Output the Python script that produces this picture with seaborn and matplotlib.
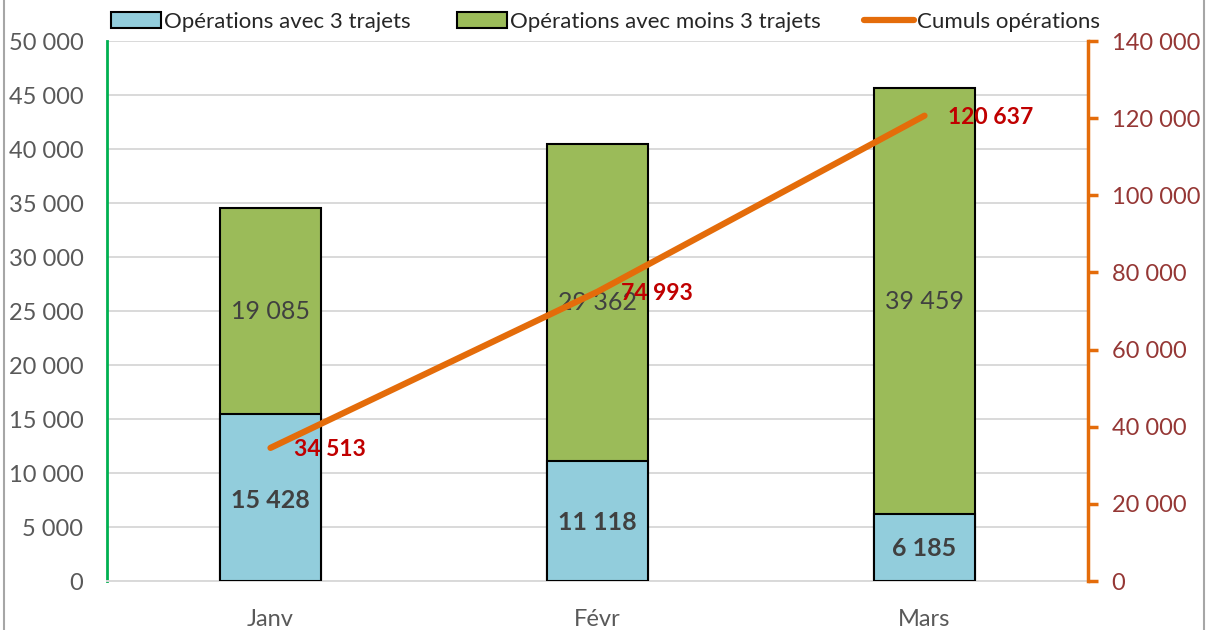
import numpy as np
import matplotlib
matplotlib.use("Agg")
import matplotlib.pyplot as plt
import seaborn as sns
import pandas as pd
from matplotlib.patches import Patch
from matplotlib.lines import Line2D

# ---- data ----
months = ["Janv", "Févr", "Mars"]
ops_3_trajets = [15428, 11118, 6185]
ops_moins_3 = [19085, 29362, 39459]
cumul_ops = [34513, 74993, 120637]
left_ticks = list(range(0, 50001, 5000))
right_ticks = list(range(0, 140001, 20000))
legend_labels = ["Opérations avec 3 trajets", "Opérations avec moins 3 trajets", "Cumuls opérations"]

def fmt(v):
    return f"{int(v):,}".replace(",", " ")

sns.set_theme(style="white")
plt.rcParams["font.family"] = ["Lato", "DejaVu Sans"]

BLUE = "#92CDDC"
GREEN = "#9BBB59"
ORANGE = "#E46C0A"
RED = "#C00000"
GRAYTXT = "#595959"
DARKTXT = "#404040"
RIGHTTXT = "#953735"

totals = [a + b for a, b in zip(ops_3_trajets, ops_moins_3)]
df = pd.DataFrame({"mois": months, "bleu": ops_3_trajets, "vert": ops_moins_3,
                   "total": totals, "cumul": cumul_ops})

fig = plt.figure(figsize=(12.08, 6.30), dpi=100)
ax = fig.add_axes([107/1208, 49/630, (1088-107)/1208, 540/630])

sns.barplot(data=df, x="mois", y="total", color=GREEN, saturation=1, width=0.31,
            edgecolor="black", linewidth=1.5, ax=ax, zorder=2)
sns.barplot(data=df, x="mois", y="bleu", color=BLUE, saturation=1, width=0.31,
            edgecolor="black", linewidth=1.5, ax=ax, zorder=3)

ax.set_xlim(-0.5, 2.5)
ax.set_ylim(0, 50000)
ax.set_yticks(left_ticks)
ax.set_yticklabels([fmt(t) for t in left_ticks], fontsize=17, color=GRAYTXT)
ax.set_xticks(range(len(months)))
ax.set_xticklabels(months, fontsize=17, color=GRAYTXT)
ax.set_xlabel("")
ax.set_ylabel("")
ax.tick_params(axis="both", length=0)
ax.tick_params(axis="x", pad=20)
ax.tick_params(axis="y", pad=17)
ax.grid(axis="y", color="#D9D9D9", linewidth=1.4, zorder=0)
ax.set_axisbelow(True)
for s in ["top", "right"]:
    ax.spines[s].set_visible(False)
ax.spines["left"].set_color("#00B050")
ax.spines["left"].set_linewidth(2)
ax.spines["bottom"].set_color("#D9D9D9")
ax.spines["bottom"].set_linewidth(1.4)

# labels inside bars
for i, (b, g) in enumerate(zip(ops_3_trajets, ops_moins_3)):
    ax.text(i, b * 0.485, fmt(b), ha="center", va="center", fontsize=18,
            fontweight="bold", color=DARKTXT, zorder=5)
    ax.text(i, b + g / 2, fmt(g), ha="center", va="center", fontsize=18,
            color=DARKTXT, zorder=5)

# cumulative line on secondary axis
ax2 = ax.twinx()
sns.lineplot(x=np.arange(len(months)), y=cumul_ops, color=ORANGE, linewidth=4.5,
             ax=ax2, solid_capstyle="round", zorder=4)
ax2.set_ylim(0, 140000)
ax2.set_xlim(-0.5, 2.5)
ax2.set_yticks(right_ticks)
ax2.set_yticklabels([fmt(t) for t in right_ticks], fontsize=17, color=RIGHTTXT)
ax2.tick_params(axis="y", length=7, width=2.5, color=ORANGE, pad=10, direction="out")
ax2.grid(False)
for s in ["top", "left", "bottom"]:
    ax2.spines[s].set_visible(False)
ax2.spines["right"].set_color(ORANGE)
ax2.spines["right"].set_linewidth(2.5)

for i, v in enumerate(cumul_ops):
    ax2.annotate(fmt(v), (i, v), xytext=(17, -1), textcoords="offset points",
                 ha="left", va="center", fontsize=16.5, fontweight="bold", color=RED, zorder=6)

# legend (three entries placed like the reference)
handles = [Patch(facecolor=BLUE, edgecolor="black", linewidth=1.5),
           Patch(facecolor=GREEN, edgecolor="black", linewidth=1.5),
           Line2D([0], [0], color=ORANGE, linewidth=4.5, solid_capstyle="round")]
legend_x = [111, 457, 864]
for h, lab, lx in zip(handles, legend_labels, legend_x):
    fig.legend([h], [lab], loc="center left", bbox_to_anchor=(lx/1208, 1 - 22/630),
               frameon=False, fontsize=16, handlelength=2.25, handleheight=0.7,
               handletextpad=0.15, borderpad=0, borderaxespad=0)

# outer frame lines
fig.add_artist(Line2D([4/1208, 4/1208], [0, 1], transform=fig.transFigure,
                      color="#A6A6A6", linewidth=1.5))
fig.add_artist(Line2D([1204/1208, 1204/1208], [0, 1], transform=fig.transFigure,
                      color="#A6A6A6", linewidth=1.5))

fig.savefig("out.png", dpi=100)
